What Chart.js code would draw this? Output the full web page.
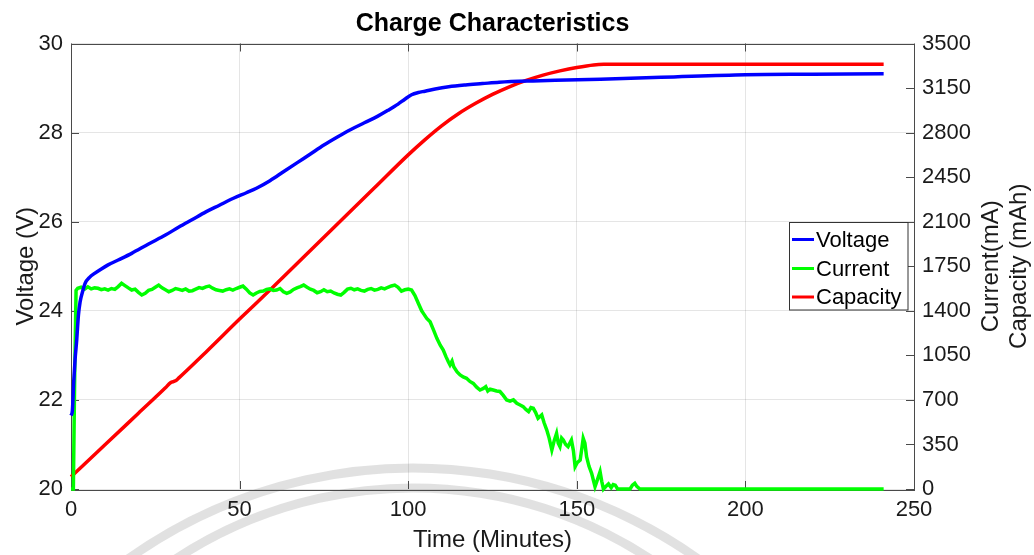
<!DOCTYPE html>
<html>
<head>
<meta charset="utf-8">
<script src="https://cdn.jsdelivr.net/npm/chart.js@4.4.1/dist/chart.umd.min.js"></script>
<style>
  html, body { margin: 0; padding: 0; background: #ffffff; }
  #wrap { position: relative; width: 1034px; height: 555px; }
  canvas { display: block; }
</style>
</head>
<body>
<div id="wrap"><canvas id="c" width="1034" height="555"></canvas></div>
<script>
// ---------- data ----------
const chartTitle = 'Charge Characteristics';
const xTitle = 'Time (Minutes)';
const yLeftTitle = 'Voltage (V)';
const yRightTitle = ['Current(mA)', 'Capacity (mAh)'];
const seriesNames = ['Voltage', 'Current', 'Capacity'];

const voltageTime = [0,0.4,0.8,1.2,1.7,2.2,2.7,3.5,4.2,5.5,7,9,11,14,18,23,28,32,36,40,44,48,52,55,59,63,67,71,75,79,83,87,91,94,97,99,101,103,105,108,112,117,122,127,137,147,157,175,200,220,241];
const voltageValues = [21.65,21.75,22.4,22.9,23.35,23.9,24.2,24.45,24.62,24.75,24.84,24.94,25.03,25.14,25.29,25.5,25.7,25.88,26.05,26.22,26.37,26.52,26.65,26.75,26.92,27.12,27.32,27.52,27.72,27.9,28.07,28.22,28.37,28.5,28.64,28.75,28.85,28.9,28.93,28.98,29.03,29.07,29.1,29.13,29.16,29.18,29.2,29.24,29.3,29.31,29.32];

const currentTime = [0,0.7,1.1,1.5,
  2,3,4,5,6,7,8,9,10,11,12,13,14,15,16,17,18,19,20,21,22,23,24,25,26,27,28,29,30,
  31,32,33,34,35,36,37,38,39,40,41,42,43,44,45,46,47,48,49,50,51,52,53,54,55,56,57,58,59,60,
  61,62,63,64,65,66,67,68,69,70,71,72,73,74,75,76,77,78,79,80,81,82,83,84,85,86,87,88,89,90,
  91,92,93,94,95,96,97,98,99,100,101,
  102,103,104,104.5,105.5,106.5,107.5,108.5,109.5,110.4,111.2,111.9,112.4,113,113.5,114.5,115.4,116.3,117.3,118.3,
  119.3,120.3,121.3,122.3,123,123.6,124.3,125.2,126.2,127.2,128.2,129.2,130.2,131.2,132.2,133.2,134.1,134.9,135.7,136.4,
  137.1,137.8,138.5,139.6,140.3,141.1,141.8,142.6,143.3,144,144.5,145,145.5,146,146.7,147.4,147.9,148.4,149,149.5,
  150.2,151,151.5,151.9,152.4,152.9,153.6,154.4,155.4,156.2,156.9,157.4,157.9,158.6,159.4,160.2,160.8,161.4,162.1,165.8,
  166.5,167.2,167.8,168.7,241];
const currentValues = [0,0,900,1560,
  1577,1585,1570,1589,1572,1580,1577,1566,1572,1563,1575,1568,1590,1616,1598,1580,1563,1570,1545,1524,1538,1560,1568,1585,1602,1580,1565,1550,1560,
  1575,1568,1560,1572,1555,1558,1570,1582,1576,1588,1594,1578,1565,1560,1555,1566,1572,1563,1575,1585,1594,1570,1540,1524,1540,1552,1555,1568,1572,1560,
  1563,1575,1550,1537,1548,1568,1580,1590,1602,1585,1570,1560,1542,1550,1565,1550,1555,1540,1530,1524,1545,1570,1577,1565,1572,1560,1555,1568,1575,1562,
  1568,1580,1572,1585,1595,1602,1585,1555,1565,1570,1563,
  1520,1459,1400,1380,1340,1314,1250,1184,1130,1092,1040,1000,975,1005,960,920,896,880,870,845,
  830,800,778,790,804,770,785,778,770,766,735,699,690,700,673,660,647,625,608,640,
  634,600,556,582,520,463,400,306,380,437,360,333,400,385,350,333,360,385,300,175,
  210,227,320,398,360,254,180,123,18,80,136,60,0,20,40,10,35,30,0,0,
  30,45,20,0,0];

const capacityTime = [0,10,20,28,29.5,31,32,40,50,60,70,80,90,100,105,110,115,120,125,130,135,140,145,150,155,158,241];
const capacityValues = [96,345,595,795,835,850,873,1075,1335,1589,1848,2107,2366,2625,2745,2855,2950,3030,3100,3160,3210,3252,3285,3312,3332,3336,3336];

const xTicks = [0, 50, 100, 150, 200, 250];
const yLeftTicks = [20, 22, 24, 26, 28, 30];
const yRightTicks = [0, 350, 700, 1050, 1400, 1750, 2100, 2450, 2800, 3150, 3500];

// ---------- helpers ----------
function pairs(ts, vs) { return ts.map((t, i) => ({ x: t, y: vs[i] })); }
const FONT = "'Liberation Sans', Arial, Helvetica, sans-serif";
const colors = ['#0000ff', '#00ff00', '#ff0000'];
const plain = v => String(v);

// ---------- plugins ----------
const watermark = {
  id: 'watermark',
  beforeDraw(chart) {
    const ctx = chart.ctx;
    ctx.save();
    ctx.strokeStyle = 'rgba(205,205,205,0.6)';
    ctx.lineWidth = 9;
    ctx.beginPath(); ctx.arc(413, 960, 492, Math.PI * 1.05, Math.PI * 1.95); ctx.stroke();
    ctx.beginPath(); ctx.arc(413, 920, 432, Math.PI * 1.05, Math.PI * 1.95); ctx.stroke();
    ctx.restore();
  }
};

const axesBox = {
  id: 'axesBox',
  beforeDatasetsDraw(chart) {
    const { ctx, chartArea: a, scales } = chart;
    ctx.save();
    ctx.strokeStyle = '#4a4a4a';
    ctx.lineWidth = 1;
    ctx.strokeRect(Math.round(a.left) + 0.5, Math.round(a.top) + 0.5, Math.round(a.right - a.left), Math.round(a.bottom - a.top));
    const L = 8;
    ctx.beginPath();
    xTicks.forEach(v => {
      const px = Math.round(scales.x.getPixelForValue(v)) + 0.5;
      ctx.moveTo(px, a.bottom); ctx.lineTo(px, a.bottom - L);
      ctx.moveTo(px, a.top); ctx.lineTo(px, a.top + L);
    });
    yLeftTicks.forEach(v => {
      const py = Math.round(scales.y.getPixelForValue(v)) + 0.5;
      ctx.moveTo(a.left, py); ctx.lineTo(a.left + L, py);
    });
    yRightTicks.forEach(v => {
      const py = Math.round(scales.y2.getPixelForValue(v)) + 0.5;
      ctx.moveTo(a.right, py); ctx.lineTo(a.right - L, py);
    });
    ctx.stroke();
    ctx.restore();
  },
  afterDraw(chart) {
    const ctx = chart.ctx;
    // right axis two-line title, reading bottom-to-top
    ctx.save();
    ctx.fillStyle = '#1a1a1a';
    ctx.font = "24px " + FONT;
    ctx.textAlign = 'center';
    ctx.textBaseline = 'middle';
    const cy = (chart.chartArea.top + chart.chartArea.bottom) / 2;
    [991, 1019].forEach((x, i) => {
      ctx.save();
      ctx.translate(x, cy);
      ctx.rotate(-Math.PI / 2);
      ctx.fillText(yRightTitle[i], 0, 0);
      ctx.restore();
    });
    // legend box
    const bx = 789.5, by = 222.5, bw = 118.5, bh = 87.5;
    ctx.fillStyle = '#ffffff';
    ctx.fillRect(bx, by, bw, bh);
    ctx.strokeStyle = '#333333';
    ctx.lineWidth = 1;
    ctx.strokeRect(bx, by, bw, bh);
    ctx.font = "22px " + FONT;
    ctx.textAlign = 'left';
    const rows = [239.5, 268.5, 297];
    seriesNames.forEach((name, i) => {
      ctx.strokeStyle = colors[i];
      ctx.lineWidth = 3;
      ctx.beginPath(); ctx.moveTo(792, rows[i]); ctx.lineTo(814, rows[i]); ctx.stroke();
      ctx.fillStyle = '#000000';
      ctx.fillText(name, 816, rows[i] + 1);
    });
    ctx.restore();
  }
};

// ---------- chart ----------
const tickFont = { family: FONT, size: 22 };
new Chart(document.getElementById('c'), {
  type: 'line',
  data: {
    datasets: [
      { label: seriesNames[0], data: pairs(voltageTime, voltageValues), yAxisID: 'y', borderColor: colors[0], borderWidth: 3.5, pointRadius: 0, cubicInterpolationMode: 'monotone', clip: 4 },
      { label: seriesNames[1], data: pairs(currentTime, currentValues), yAxisID: 'y2', borderColor: colors[1], borderWidth: 3.5, pointRadius: 0, tension: 0, clip: 4 },
      { label: seriesNames[2], data: pairs(capacityTime, capacityValues), yAxisID: 'y2', borderColor: colors[2], borderWidth: 3.5, pointRadius: 0, cubicInterpolationMode: 'monotone', clip: 4 }
    ]
  },
  options: {
    responsive: false,
    animation: false,
    events: [],
    layout: { padding: 0 },
    plugins: {
      legend: { display: false },
      tooltip: { enabled: false },
      title: {
        display: true, text: chartTitle, color: '#000000', fullSize: false,
        font: { family: FONT, size: 25, weight: 'bold', lineHeight: 1.2 },
        padding: { top: 9, bottom: 4.5 }
      }
    },
    scales: {
      x: {
        type: 'linear', min: 0, max: 250,
        afterBuildTicks: s => { s.ticks = xTicks.map(v => ({ value: v })); },
        afterFit: s => { s.height = 66; },
        ticks: { color: '#1a1a1a', font: tickFont, padding: 8, maxRotation: 0, callback: plain },
        grid: { color: 'rgba(40,40,40,0.12)', drawTicks: false, lineWidth: 1 },
        border: { display: false },
        title: { display: true, text: xTitle, color: '#1a1a1a', font: { family: FONT, size: 24 }, padding: { top: 0, bottom: 0 } }
      },
      y: {
        type: 'linear', position: 'left', min: 20, max: 30,
        afterBuildTicks: s => { s.ticks = yLeftTicks.map(v => ({ value: v })); },
        afterFit: s => { s.width = 71; },
        ticks: { color: '#1a1a1a', font: tickFont, padding: 8, callback: plain },
        grid: { color: 'rgba(40,40,40,0.12)', drawTicks: false, lineWidth: 1 },
        border: { display: false },
        title: { display: true, text: yLeftTitle, color: '#1a1a1a', font: { family: FONT, size: 24 }, padding: { top: 12, bottom: 0 } }
      },
      y2: {
        type: 'linear', position: 'right', min: 0, max: 3500,
        afterBuildTicks: s => { s.ticks = yRightTicks.map(v => ({ value: v })); },
        afterFit: s => { s.width = 120; },
        ticks: { color: '#1a1a1a', font: tickFont, padding: 8, callback: plain },
        grid: { display: false, drawTicks: false },
        border: { display: false }
      }
    }
  },
  plugins: [watermark, axesBox]
});
</script>
</body>
</html>
